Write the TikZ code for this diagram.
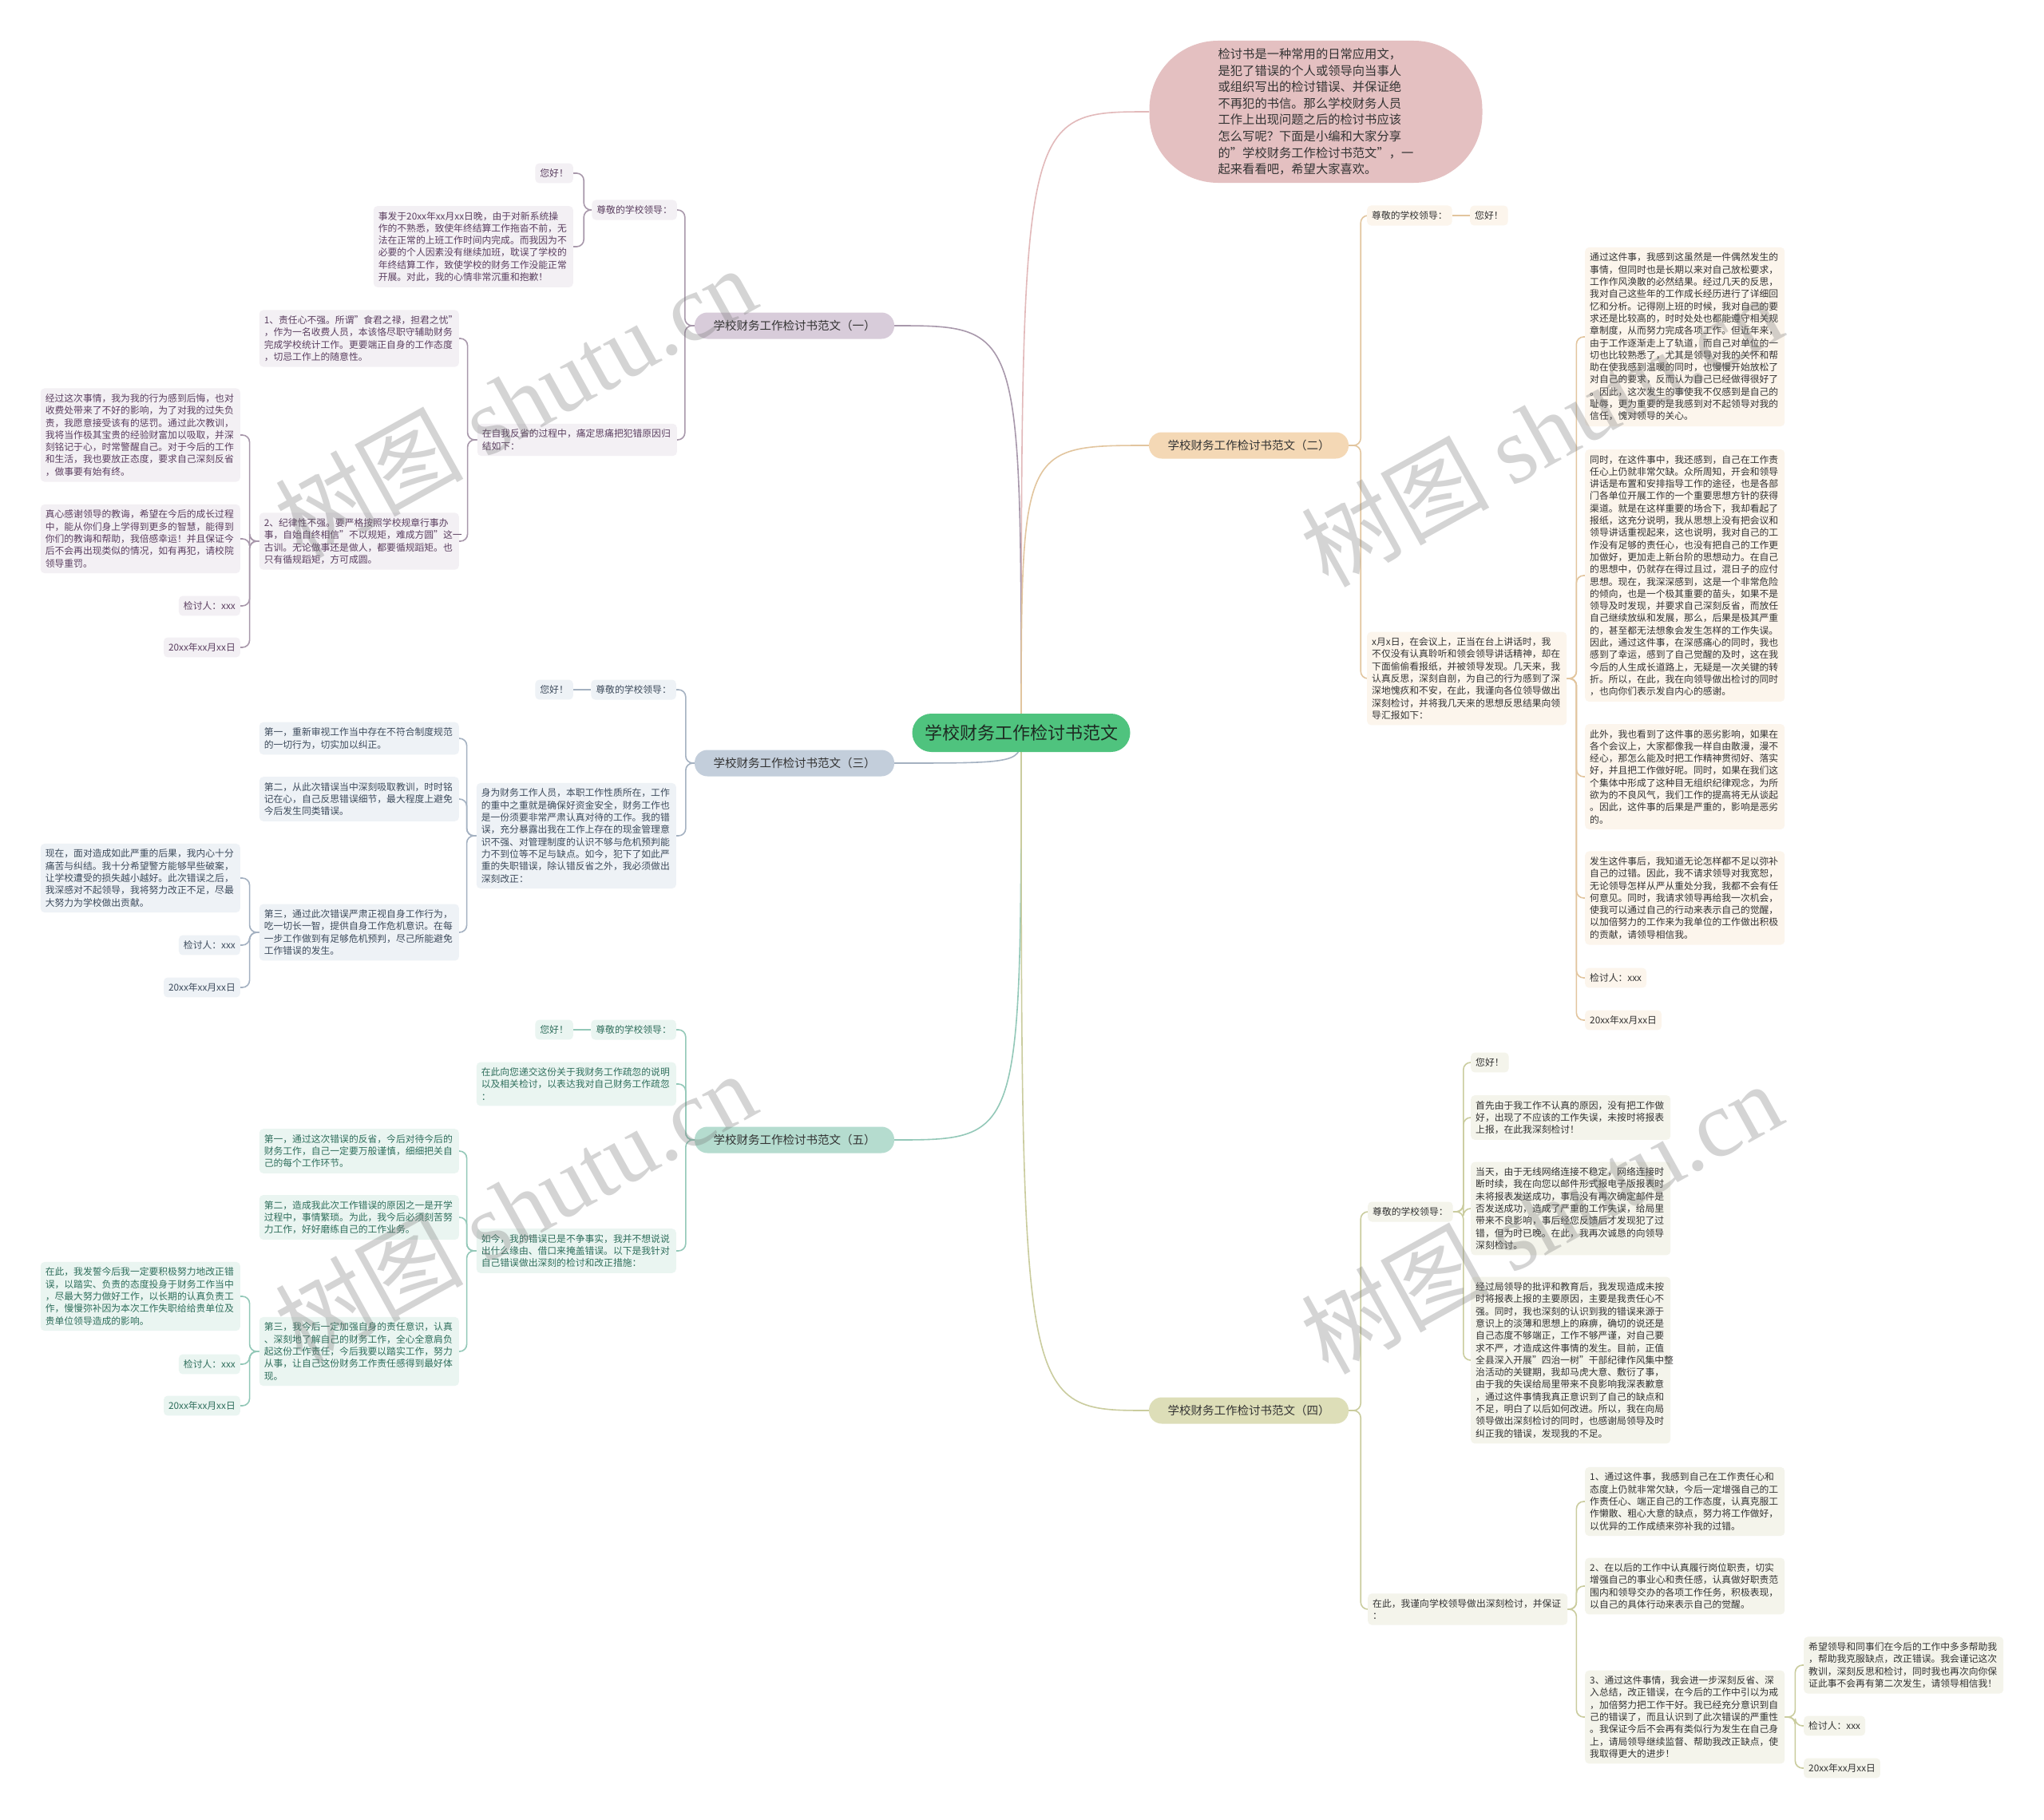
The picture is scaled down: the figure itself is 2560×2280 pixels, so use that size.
\documentclass[tikz,border=0pt]{standalone}
\usepackage{fontspec}
\setmainfont{Noto Sans CJK SC}
\newfontfamily\wmlatin{Liberation Serif}
\definecolor{cfill}{HTML}{4FC37E}
\definecolor{ctext}{HTML}{1E2A22}
\definecolor{pfill}{HTML}{E4C0C1}
\definecolor{lp}{HTML}{E2B9BA}
\definecolor{f1}{HTML}{D8CCDA}\definecolor{k1}{HTML}{F3F0F4}\definecolor{t1}{HTML}{5B3F60}\definecolor{l1}{HTML}{A898AB}
\definecolor{f3}{HTML}{C3CEDB}\definecolor{k3}{HTML}{EEF2F6}\definecolor{t3}{HTML}{3D4B5C}\definecolor{l3}{HTML}{A4B1C1}
\definecolor{f5}{HTML}{B5DCCF}\definecolor{k5}{HTML}{EAF5F1}\definecolor{t5}{HTML}{2F6E5C}\definecolor{l5}{HTML}{93C8B8}
\definecolor{f2}{HTML}{F4D8B5}\definecolor{k2}{HTML}{FCF5EC}\definecolor{t2}{HTML}{333333}\definecolor{l2}{HTML}{E2C59E}
\definecolor{f4}{HTML}{DDDEB8}\definecolor{k4}{HTML}{F4F4EB}\definecolor{t4}{HTML}{333333}\definecolor{l4}{HTML}{CACC9E}
\pgfdeclarelayer{bg}\pgfdeclarelayer{fg}\pgfsetlayers{bg,main,fg}
\tikzset{
  leaf/.style={rounded corners=5pt, inner xsep=6pt, inner ysep=7pt, font=\fontsize{11.8}{15.3}\selectfont, align=left},
  wide/.style={leaf, text width=238pt},
  p1/.style={fill=k1, text=t1}, p3/.style={fill=k3, text=t3}, p5/.style={fill=k5, text=t5},
  p2/.style={fill=k2, text=t2}, p4/.style={fill=k4, text=t4},
  branch/.style={rounded corners=16pt, minimum width=250pt, minimum height=33pt, inner sep=0pt, font=\fontsize{14.5}{17}\selectfont, text=black!80},
  lk/.style={line width=1.6pt, rounded corners=9pt},
  wm/.style={rotate=29, text=black!55, opacity=.3, font=\fontsize{118}{118}\selectfont}
}
\begin{document}
\begin{tikzpicture}[x=1pt,y=-1pt]
\begin{pgfonlayer}{bg}
\fill[white] (0,0) rectangle (2560,2280);
\end{pgfonlayer}
\useasboundingbox (0,0) rectangle (2560,2280);

% central and top
\node[fill=cfill, text=ctext, rounded corners=24pt, minimum width=273pt, minimum height=48pt, inner sep=0pt, font=\fontsize{22}{26}\selectfont] (c) at (1279,918) {学校财务工作检讨书范文};
\node[fill=pfill, text=black!80, rounded corners=86pt, minimum width=417pt, minimum height=178pt, align=left, font=\fontsize{15.3}{20.6}\selectfont] (top) at (1648,140) {检讨书是一种常用的日常应用文，\\是犯了错误的个人或领导向当事人\\或组织写出的检讨错误、并保证绝\\不再犯的书信。那么学校财务人员\\工作上出现问题之后的检讨书应该\\怎么写呢？下面是小编和大家分享\\的"学校财务工作检讨书范文"，一\\起来看看吧，希望大家喜欢。};

% branch nodes
\node[branch, fill=f1] (b1) at (995,408) {学校财务工作检讨书范文（一）};
\node[branch, fill=f3] (b3) at (995,956) {学校财务工作检讨书范文（三）};
\node[branch, fill=f5] (b5) at (995,1428) {学校财务工作检讨书范文（五）};
\node[branch, fill=f2] (b2) at (1564,558) {学校财务工作检讨书范文（二）};
\node[branch, fill=f4] (b4) at (1564,1767) {学校财务工作检讨书范文（四）};

% ---------- branch 1
\node[leaf,p1,anchor=east] (b1a) at (848,263) {尊敬的学校领导：};
\node[leaf,p1,anchor=east] (b1a1) at (718,217) {您好！};
\node[wide,p1,anchor=east] (b1a2) at (718,309) {事发于20xx年xx月xx日晚，由于对新系统操\\作的不熟悉，致使年终结算工作拖沓不前，无\\法在正常的上班工作时间内完成。而我因为不\\必要的个人因素没有继续加班，耽误了学校的\\年终结算工作，致使学校的财务工作没能正常\\开展。对此，我的心情非常沉重和抱歉！};
\node[wide,p1,anchor=east] (b1b) at (848,551) {在自我反省的过程中，痛定思痛把犯错原因归\\结如下：};
\node[wide,p1,anchor=east] (b1b1) at (575,424) {1、责任心不强。所谓"食君之禄，担君之忧"\\，作为一名收费人员，本该恪尽职守辅助财务\\完成学校统计工作。更要端正自身的工作态度\\，切忌工作上的随意性。};
\node[wide,p1,anchor=east] (b1b2) at (575,678) {2、纪律性不强。要严格按照学校规章行事办\\事，自始自终相信"不以规矩，难成方圆"这一\\古训。无论做事还是做人，都要循规蹈矩。也\\只有循规蹈矩，方可成圆。};
\node[wide,p1,anchor=east] (b1b2a) at (301,545) {经过这次事情，我为我的行为感到后悔，也对\\收费处带来了不好的影响，为了对我的过失负\\责，我愿意接受该有的惩罚。通过此次教训，\\我将当作极其宝贵的经验财富加以吸取，并深\\刻铭记于心，时常警醒自己。对于今后的工作\\和生活，我也要放正态度，要求自己深刻反省\\，做事要有始有终。};
\node[wide,p1,anchor=east] (b1b2b) at (301,675) {真心感谢领导的教诲，希望在今后的成长过程\\中，能从你们身上学得到更多的智慧，能得到\\你们的教诲和帮助，我倍感幸运！并且保证今\\后不会再出现类似的情况，如有再犯，请校院\\领导重罚。};
\node[leaf,p1,anchor=east] (b1b2c) at (301,759) {检讨人：xxx};
\node[leaf,p1,anchor=east] (b1b2d) at (301,811) {20xx年xx月xx日};

% ---------- branch 3
\node[leaf,p3,anchor=east] (b3a) at (847,864) {尊敬的学校领导：};
\node[leaf,p3,anchor=east] (b3a1) at (718,864) {您好！};
\node[wide,p3,anchor=east] (b3b) at (847,1047) {身为财务工作人员，本职工作性质所在，工作\\的重中之重就是确保好资金安全，财务工作也\\是一份须要非常严肃认真对待的工作。我的错\\误，充分暴露出我在工作上存在的现金管理意\\识不强、对管理制度的认识不够与危机预判能\\力不到位等不足与缺点。如今，犯下了如此严\\重的失职错误，除认错反省之外，我必须做出\\深刻改正：};
\node[wide,p3,anchor=east] (b3b1) at (575,925) {第一，重新审视工作当中存在不符合制度规范\\的一切行为，切实加以纠正。};
\node[wide,p3,anchor=east] (b3b2) at (575,1001) {第二，从此次错误当中深刻吸取教训，时时铭\\记在心，自己反思错误细节，最大程度上避免\\今后发生同类错误。};
\node[wide,p3,anchor=east] (b3b3) at (575,1168) {第三，通过此次错误严肃正视自身工作行为，\\吃一切长一智，提供自身工作危机意识。在每\\一步工作做到有足够危机预判，尽己所能避免\\工作错误的发生。};
\node[wide,p3,anchor=east] (b3b3a) at (301,1100) {现在，面对造成如此严重的后果，我内心十分\\痛苦与纠结。我十分希望警方能够早些破案，\\让学校遭受的损失越小越好。此次错误之后，\\我深感对不起领导，我将努力改正不足，尽最\\大努力为学校做出贡献。};
\node[leaf,p3,anchor=east] (b3b3b) at (301,1184) {检讨人：xxx};
\node[leaf,p3,anchor=east] (b3b3c) at (301,1237) {20xx年xx月xx日};

% ---------- branch 5
\node[leaf,p5,anchor=east] (b5a) at (847,1290) {尊敬的学校领导：};
\node[leaf,p5,anchor=east] (b5a1) at (718,1290) {您好！};
\node[wide,p5,anchor=east] (b5b) at (847,1358) {在此向您递交这份关于我财务工作疏忽的说明\\以及相关检讨，以表达我对自己财务工作疏忽\\：};
\node[wide,p5,anchor=east] (b5c) at (847,1567) {如今，我的错误已是不争事实，我并不想说说\\出什么缘由、借口来掩盖错误。以下是我针对\\自己错误做出深刻的检讨和改正措施：};
\node[wide,p5,anchor=east] (b5c1) at (575,1442) {第一，通过这次错误的反省，今后对待今后的\\财务工作，自己一定要万般谨慎，细细把关自\\己的每个工作环节。};
\node[wide,p5,anchor=east] (b5c2) at (575,1525) {第二，造成我此次工作错误的原因之一是开学\\过程中，事情繁琐。为此，我今后必须刻苦努\\力工作，好好磨练自己的工作业务。};
\node[wide,p5,anchor=east] (b5c3) at (575,1693) {第三，我今后一定加强自身的责任意识，认真\\、深刻地了解自己的财务工作，全心全意肩负\\起这份工作责任，今后我要以踏实工作，努力\\从事，让自己这份财务工作责任感得到最好体\\现。};
\node[wide,p5,anchor=east] (b5c3a) at (301,1624) {在此，我发誓今后我一定要积极努力地改正错\\误，以踏实、负责的态度投身于财务工作当中\\，尽最大努力做好工作，以长期的认真负责工\\作，慢慢弥补因为本次工作失职给给贵单位及\\贵单位领导造成的影响。};
\node[leaf,p5,anchor=east] (b5c3b) at (301,1709) {检讨人：xxx};
\node[leaf,p5,anchor=east] (b5c3c) at (301,1761) {20xx年xx月xx日};

% ---------- branch 2
\node[leaf,p2,anchor=west] (b2a) at (1712,270) {尊敬的学校领导：};
\node[leaf,p2,anchor=west] (b2a1) at (1841,270) {您好！};
\node[wide,p2,anchor=west] (b2b) at (1712,850) {x月x日，在会议上，正当在台上讲话时，我\\不仅没有认真聆听和领会领导讲话精神，却在\\下面偷偷看报纸，并被领导发现。几天来，我\\认真反思，深刻自剖，为自己的行为感到了深\\深地愧疚和不安，在此，我谨向各位领导做出\\深刻检讨，并将我几天来的思想反思结果向领\\导汇报如下：};
\node[wide,p2,anchor=west] (b2b1) at (1985,422) {通过这件事，我感到这虽然是一件偶然发生的\\事情，但同时也是长期以来对自己放松要求，\\工作作风涣散的必然结果。经过几天的反思，\\我对自己这些年的工作成长经历进行了详细回\\忆和分析。记得刚上班的时候，我对自己的要\\求还是比较高的，时时处处也都能遵守相关规\\章制度，从而努力完成各项工作。但近年来，\\由于工作逐渐走上了轨道，而自己对单位的一\\切也比较熟悉了，尤其是领导对我的关怀和帮\\助在使我感到温暖的同时，也慢慢开始放松了\\对自己的要求，反而认为自己已经做得很好了\\。因此，这次发生的事使我不仅感到是自己的\\耻辱，更为重要的是我感到对不起领导对我的\\信任，愧对领导的关心。};
\node[wide,p2,anchor=west] (b2b2) at (1985,721) {同时，在这件事中，我还感到，自己在工作责\\任心上仍就非常欠缺。众所周知，开会和领导\\讲话是布置和安排指导工作的途径，也是各部\\门各单位开展工作的一个重要思想方针的获得\\渠道。就是在这样重要的场合下，我却看起了\\报纸，这充分说明，我从思想上没有把会议和\\领导讲话重视起来，这也说明，我对自己的工\\作没有足够的责任心，也没有把自己的工作更\\加做好，更加走上新台阶的思想动力。在自己\\的思想中，仍就存在得过且过，混日子的应付\\思想。现在，我深深感到，这是一个非常危险\\的倾向，也是一个极其重要的苗头，如果不是\\领导及时发现，并要求自己深刻反省，而放任\\自己继续放纵和发展，那么，后果是极其严重\\的，甚至都无法想象会发生怎样的工作失误。\\因此，通过这件事，在深感痛心的同时，我也\\感到了幸运，感到了自己觉醒的及时，这在我\\今后的人生成长道路上，无疑是一次关键的转\\折。所以，在此，我在向领导做出检讨的同时\\，也向你们表示发自内心的感谢。};
\node[wide,p2,anchor=west] (b2b3) at (1985,973) {此外，我也看到了这件事的恶劣影响，如果在\\各个会议上，大家都像我一样自由散漫，漫不\\经心，那怎么能及时把工作精神贯彻好、落实\\好，并且把工作做好呢。同时，如果在我们这\\个集体中形成了这种目无组织纪律观念，为所\\欲为的不良风气，我们工作的提高将无从谈起\\。因此，这件事的后果是严重的，影响是恶劣\\的。};
\node[wide,p2,anchor=west] (b2b4) at (1985,1125) {发生这件事后，我知道无论怎样都不足以弥补\\自己的过错。因此，我不请求领导对我宽恕，\\无论领导怎样从严从重处分我，我都不会有任\\何意见。同时，我请求领导再给我一次机会，\\使我可以通过自己的行动来表示自己的觉醒，\\以加倍努力的工作来为我单位的工作做出积极\\的贡献，请领导相信我。};
\node[leaf,p2,anchor=west] (b2b5) at (1985,1225) {检讨人：xxx};
\node[leaf,p2,anchor=west] (b2b6) at (1985,1278) {20xx年xx月xx日};

% ---------- branch 4
\node[leaf,p4,anchor=west] (b4a) at (1713,1518) {尊敬的学校领导：};
\node[leaf,p4,anchor=west] (b4a1) at (1842,1331) {您好！};
\node[wide,p4,anchor=west] (b4a2) at (1842,1400) {首先由于我工作不认真的原因，没有把工作做\\好，出现了不应该的工作失误，未按时将报表\\上报，在此我深刻检讨！};
\node[wide,p4,anchor=west] (b4a3) at (1842,1514) {当天，由于无线网络连接不稳定，网络连接时\\断时续，我在向您以邮件形式报电子版报表时\\未将报表发送成功，事后没有再次确定邮件是\\否发送成功，造成了严重的工作失误，给局里\\带来不良影响，事后经您反馈后才发现犯了过\\错，但为时已晚。在此，我再次诚恳的向领导\\深刻检讨。};
\node[wide,p4,anchor=west] (b4a4) at (1842,1704) {经过局领导的批评和教育后，我发现造成未按\\时将报表上报的主要原因，主要是我责任心不\\强。同时，我也深刻的认识到我的错误来源于\\意识上的淡薄和思想上的麻痹，确切的说还是\\自己态度不够端正，工作不够严谨，对自己要\\求不严，才造成这件事情的发生。目前，正值\\全县深入开展"四治一树"干部纪律作风集中整\\治活动的关键期，我却马虎大意、敷衍了事，\\由于我的失误给局里带来不良影响我深表歉意\\，通过这件事情我真正意识到了自己的缺点和\\不足，明白了以后如何改进。所以，我在向局\\领导做出深刻检讨的同时，也感谢局领导及时\\纠正我的错误，发现我的不足。};
\node[wide,p4,anchor=west] (b4b) at (1713,2016) {在此，我谨向学校领导做出深刻检讨，并保证\\：};
\node[wide,p4,anchor=west] (b4b1) at (1985,1881) {1、通过这件事，我感到自己在工作责任心和\\态度上仍就非常欠缺，今后一定增强自己的工\\作责任心、端正自己的工作态度，认真克服工\\作懒散、粗心大意的缺点，努力将工作做好，\\以优异的工作成绩来弥补我的过错。};
\node[wide,p4,anchor=west] (b4b2) at (1985,1987) {2、在以后的工作中认真履行岗位职责，切实\\增强自己的事业心和责任感，认真做好职责范\\围内和领导交办的各项工作任务，积极表现，\\以自己的具体行动来表示自己的觉醒。};
\node[wide,p4,anchor=west] (b4b3) at (1985,2151) {3、通过这件事情，我会进一步深刻反省、深\\入总结，改正错误，在今后的工作中引以为戒\\，加倍努力把工作干好。我已经充分意识到自\\己的错误了，而且认识到了此次错误的严重性\\。我保证今后不会再有类似行为发生在自己身\\上，请局领导继续监督、帮助我改正缺点，使\\我取得更大的进步！};
\node[wide,p4,anchor=west] (b4b3a) at (2259,2086) {希望领导和同事们在今后的工作中多多帮助我\\，帮助我克服缺点，改正错误。我会谨记这次\\教训，深刻反思和检讨，同时我也再次向你保\\证此事不会再有第二次发生，请领导相信我！};
\node[leaf,p4,anchor=west] (b4b3b) at (2259,2162) {检讨人：xxx};
\node[leaf,p4,anchor=west] (b4b3c) at (2259,2215) {20xx年xx月xx日};

% ---------- connectors
\begin{pgfonlayer}{bg}
\draw[line width=1.6pt, lp] (c.center) .. controls (c.center |- top.west) .. (top.west);
\draw[line width=1.6pt, l1] (c.center) .. controls (c.center |- b1.east) .. (b1.east);
\draw[line width=1.6pt, l3] (c.center) .. controls (c.center |- b3.east) .. (b3.east);
\draw[line width=1.6pt, l5] (c.center) .. controls (c.center |- b5.east) .. (b5.east);
\draw[line width=1.6pt, l2] (c.center) .. controls (c.center |- b2.west) .. (b2.west);
\draw[line width=1.6pt, l4] (c.center) .. controls (c.center |- b4.west) .. (b4.west);
% branch 1
\foreach \ch in {b1a,b1b} \draw[lk,l1] (b1.west) -- ++(-12,0) |- (\ch.east);
\foreach \ch in {b1a1,b1a2} \draw[lk,l1] (b1a.west) -- ++(-10,0) |- (\ch.east);
\foreach \ch in {b1b1,b1b2} \draw[lk,l1] (b1b.west) -- ++(-12,0) |- (\ch.east);
\foreach \ch in {b1b2a,b1b2b,b1b2c,b1b2d} \draw[lk,l1] (b1b2.west) -- ++(-12,0) |- (\ch.east);
% branch 3
\foreach \ch in {b3a,b3b} \draw[lk,l3] (b3.west) -- ++(-11,0) |- (\ch.east);
\draw[lk,l3] (b3a.west) -- (b3a1.east);
\foreach \ch in {b3b1,b3b2,b3b3} \draw[lk,l3] (b3b.west) -- ++(-12,0) |- (\ch.east);
\foreach \ch in {b3b3a,b3b3b,b3b3c} \draw[lk,l3] (b3b3.west) -- ++(-12,0) |- (\ch.east);
% branch 5
\foreach \ch in {b5a,b5b,b5c} \draw[lk,l5] (b5.west) -- ++(-11,0) |- (\ch.east);
\draw[lk,l5] (b5a.west) -- (b5a1.east);
\foreach \ch in {b5c1,b5c2,b5c3} \draw[lk,l5] (b5c.west) -- ++(-12,0) |- (\ch.east);
\foreach \ch in {b5c3a,b5c3b,b5c3c} \draw[lk,l5] (b5c3.west) -- ++(-12,0) |- (\ch.east);
% branch 2
\foreach \ch in {b2a,b2b} \draw[lk,l2] (b2.east) -- ++(15,0) |- (\ch.west);
\draw[lk,l2] (b2a.east) -- (b2a1.west);
\foreach \ch in {b2b1,b2b2,b2b3,b2b4,b2b5,b2b6} \draw[lk,l2] (b2b.east) -- ++(12,0) |- (\ch.west);
% branch 4
\foreach \ch in {b4a,b4b} \draw[lk,l4] (b4.east) -- ++(15,0) |- (\ch.west);
\foreach \ch in {b4a1,b4a2,b4a3,b4a4} \draw[lk,l4] (b4a.east) -- ++(13,0) |- (\ch.west);
\foreach \ch in {b4b1,b4b2,b4b3} \draw[lk,l4] (b4b.east) -- ++(11,0) |- (\ch.west);
\foreach \ch in {b4b3a,b4b3b,b4b3c} \draw[lk,l4] (b4b3.east) -- ++(13,0) |- (\ch.west);
\end{pgfonlayer}

% watermarks
\begin{pgfonlayer}{fg}
\node[wm] (w1) at (645,503) {树图 {\wmlatin shutu.cn}};
\node[wm] (w2) at (645,1512) {树图 {\wmlatin shutu.cn}};
\node[wm] (w3) at (1930,539) {树图 {\wmlatin shutu.cn}};
\node[wm] (w4) at (1930,1525) {树图 {\wmlatin shutu.cn}};
\end{pgfonlayer}
\end{tikzpicture}
\end{document}
